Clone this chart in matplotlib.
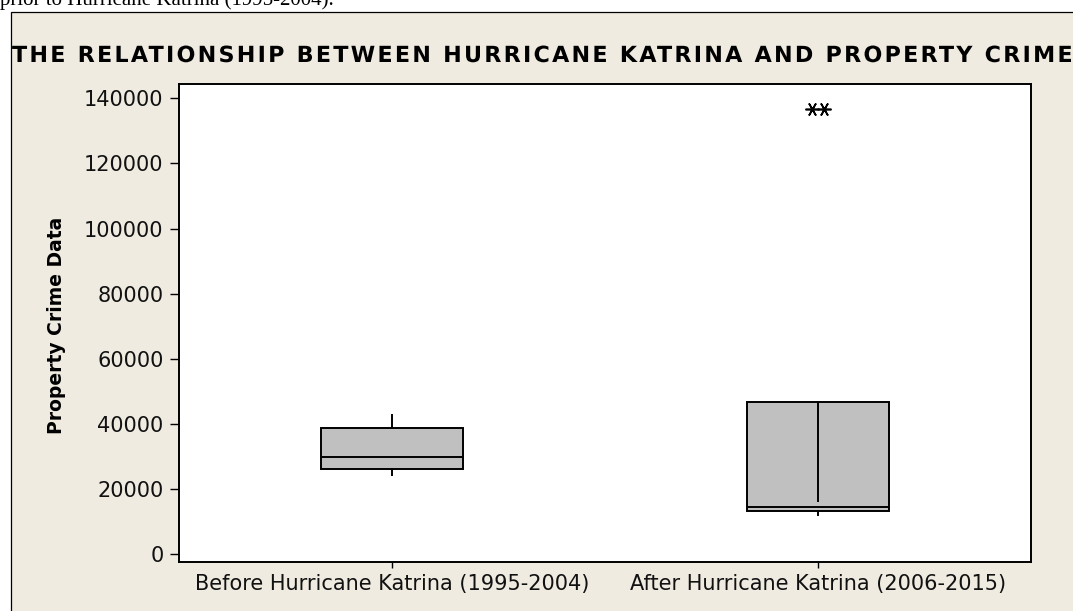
import bisect
import numpy as np
import matplotlib
matplotlib.use("Agg")
import matplotlib.pyplot as plt
from matplotlib.patches import Rectangle
from matplotlib.path import Path
from matplotlib.patheffects import AbstractPathEffect
from matplotlib.font_manager import FontProperties
from matplotlib.textpath import TextPath

# ---------------- data ----------------
categories = ["Before Hurricane Katrina (1995-2004)", "After Hurricane Katrina (2006-2015)"]
whisker_low = [24300, 12100]
q1 = [26200, 13200]
median = [30000, 14500]
q3 = [38900, 46700]
whisker_high = [42800, 16500]
outliers = [[], [136600, 136600]]
ytick_values = [0, 20000, 40000, 60000, 80000, 100000, 120000, 140000]
ytick_labels = ["0", "20000", "40000", "60000", "80000", "100000", "120000", "140000"]
title = "THE RELATIONSHIP BETWEEN HURRICANE KATRINA AND PROPERTY CRIME"
header_text = "prior to Hurricane Katrina (1995-2004)."
ylabel = "Property Crime Data"

# ---------------- style ----------------
W, H = 1073, 611
BEIGE = "#EFEBE1"
BOXFILL = "#C0C0C0"


class Tracking(AbstractPathEffect):
    """Adds extra letter spacing to a single text object."""

    def __init__(self, text, prop, track_px):
        super().__init__()
        p = prop.copy()
        p.set_size(100)
        self.rights = []
        for i in range(1, len(text) + 1):
            sub = text[:i]
            if sub.strip() == "":
                self.rights.append(0.0)
                continue
            ext = TextPath((0, 0), sub, size=100, prop=p).get_extents()
            self.rights.append(ext.x1)
        self.track_px = track_px

    def draw_path(self, renderer, gc, tpath, affine, rgbFace=None):
        verts = tpath.vertices.copy()
        codes = tpath.codes
        scale = abs(affine.get_matrix()[0, 0]) or 1.0
        track = self.track_px / scale
        if codes is not None:
            starts = np.flatnonzero(codes == Path.MOVETO)
            ends = list(starts[1:]) + [len(verts)]
            for s, e in zip(starts, ends):
                cx = verts[s:e, 0].mean()
                j = bisect.bisect_left(self.rights, cx)
                verts[s:e, 0] += j * track
        renderer.draw_path(gc, Path(verts, codes), affine, rgbFace)


fig = plt.figure(figsize=(W / 100, H / 100), dpi=100, facecolor="white")

# beige panel with thin black top/left border
fig.add_artist(Rectangle((10.5 / W, -0.02), 1.2, (H - 11.7) / H + 0.02,
                         transform=fig.transFigure, facecolor=BEIGE,
                         edgecolor="black", linewidth=0.9, zorder=-5))

# cut-off header text from the document
fig.text(0.0, 1 - 5 / H, header_text, family="Liberation Serif", fontsize=15,
         ha="left", va="baseline", color="black")

# title with wide letter spacing
tprop = FontProperties(family="DejaVu Sans", weight="bold", size=16)
fig.text(12 / W, 1 - 62 / H, title, fontproperties=tprop, ha="left", va="baseline",
         color="black", path_effects=[Tracking(title, tprop, 2.25)])

ax = fig.add_axes([179.3 / W, (H - 562.3) / H, (1030.7 - 179.3) / W, (562.3 - 84) / H])
ax.set_facecolor("white")

positions = [1, 2]
stats = []
for i, cat in enumerate(categories):
    stats.append(dict(label=cat, whislo=whisker_low[i], q1=q1[i], med=median[i],
                      q3=q3[i], whishi=whisker_high[i], fliers=[]))

ax.bxp(stats, positions=positions, widths=0.333, patch_artist=True,
       showfliers=False, showcaps=False, manage_ticks=False,
       boxprops=dict(facecolor=BOXFILL, edgecolor="black", linewidth=1.4),
       medianprops=dict(color="black", linewidth=1.4),
       whiskerprops=dict(color="black", linewidth=1.4))

for pos, vals in zip(positions, outliers):
    if len(vals) == 0:
        continue
    n = len(vals)
    offs = (np.arange(n) - (n - 1) / 2) * 0.027
    ax.plot(pos + offs, vals, linestyle="none", marker=(6, 2, 90), markersize=10,
            color="black", markeredgewidth=1.2)

ax.set_xlim(0.5, 2.5)
ax.set_ylim(-2456, 144380)
ax.set_xticks(positions)
ax.set_xticklabels(categories, fontsize=15, family="DejaVu Sans")
ax.set_yticks(ytick_values)
ax.set_yticklabels(ytick_labels, fontsize=15, family="DejaVu Sans")
ax.tick_params(axis="y", length=6.5, width=1.0, pad=4.8, color="black", labelcolor="#111111")
ax.tick_params(axis="x", length=4.3, width=1.0, pad=4.0, color="black", labelcolor="#111111")
for sp in ax.spines.values():
    sp.set_linewidth(1.4)
    sp.set_color("black")

ax.set_ylabel(ylabel, fontsize=13.5, fontweight="bold", family="DejaVu Sans")
ax.yaxis.label.set_va("center")
ax.yaxis.set_label_coords((57 - 179.3) / (1030.7 - 179.3), (562.3 - 325) / (562.3 - 84))

fig.savefig("out.png", dpi=100, facecolor=fig.get_facecolor())
